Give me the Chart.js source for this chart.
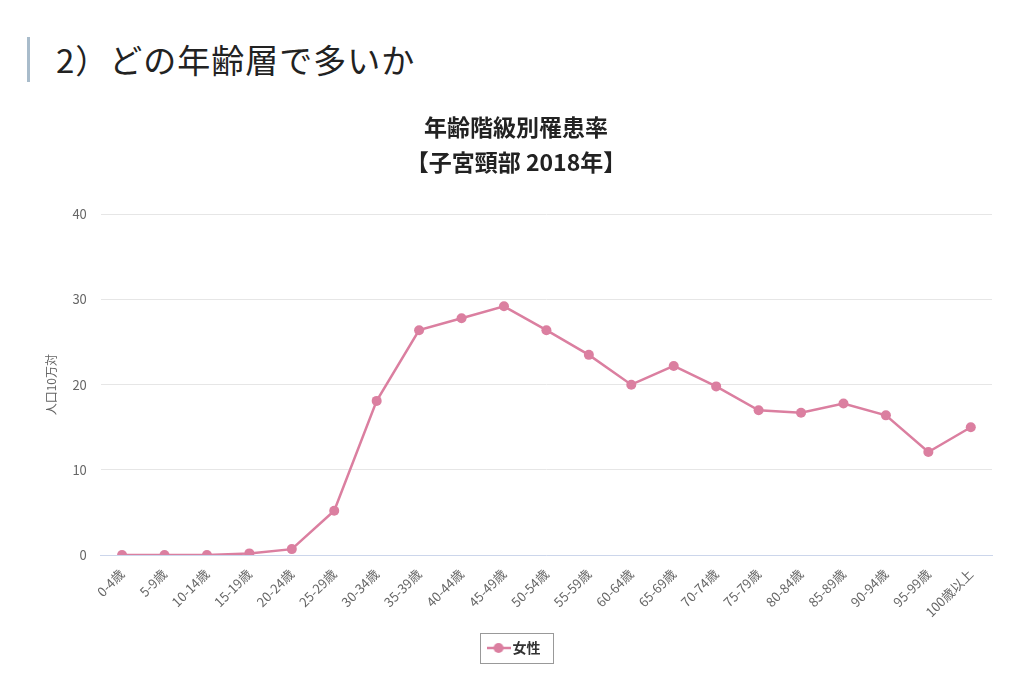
<!DOCTYPE html>
<html lang="ja">
<head>
<meta charset="utf-8">
<title>年齢階級別罹患率</title>
<script src="https://cdn.jsdelivr.net/npm/chart.js@4"></script>
<style>
  html, body { margin: 0; padding: 0; background: #fff; }
  body { width: 1026px; height: 680px; position: relative; overflow: hidden;
         font-family: "Noto Sans CJK JP", "Noto Sans", sans-serif; }
  .heading { position: absolute; left: 27px; top: 37px; height: 45px;
             border-left: 3px solid #a9bccb; padding-left: 26px;
             font-size: 33px; line-height: 45px; color: #222; letter-spacing: 1px; }
  .chart-wrap { position: absolute; left: 0; top: 95px; width: 1026px; height: 585px; }
</style>
</head>
<body>
<div class="heading">2）どの年齢層で多いか</div>
<div class="chart-wrap"><canvas id="myChart"></canvas></div>

<script>
// age groups
var ageLabels = ['0-4歳', '5-9歳', '10-14歳', '15-19歳', '20-24歳', '25-29歳', '30-34歳',
  '35-39歳', '40-44歳', '45-49歳', '50-54歳', '55-59歳', '60-64歳', '65-69歳',
  '70-74歳', '75-79歳', '80-84歳', '85-89歳', '90-94歳', '95-99歳', '100歳以上'];

// 罹患率 (人口10万対)
var femaleRate = [0.0, 0.0, 0.0, 0.2, 0.7, 5.2, 18.1, 26.4, 27.8, 29.2, 26.4, 23.5,
  20.0, 22.2, 19.8, 17.0, 16.7, 17.8, 16.4, 12.1, 15.0];

var yTicks = [0, 10, 20, 30, 40];

var pink = '#db7fa0';

// legend marker: line with dot
var marker = document.createElement('canvas');
marker.width = 24; marker.height = 12;
(function(){
  var c = marker.getContext('2d');
  c.strokeStyle = pink; c.lineWidth = 2.5;
  c.beginPath(); c.moveTo(0, 6); c.lineTo(24, 6); c.stroke();
  c.fillStyle = pink;
  c.beginPath(); c.arc(12, 6, 5, 0, Math.PI * 2); c.fill();
})();

// box around legend
var legendBox = {
  id: 'legendBox',
  afterDraw: function(chart){
    var lg = chart.legend;
    if (!lg || !lg.legendHitBoxes || !lg.legendHitBoxes.length) return;
    var b = lg.legendHitBoxes[0];
    var ctx = chart.ctx;
    ctx.save();
    ctx.strokeStyle = '#999';
    ctx.lineWidth = 1;
    ctx.strokeRect(Math.round(b.left - 12) + 0.5, Math.round(b.top - 8) + 0.5,
                   Math.round(b.width + 24), Math.round(b.height + 16));
    ctx.restore();
  }
};

var ctx = document.getElementById('myChart').getContext('2d');
var myChart = new Chart(ctx, {
  type: 'line',
  data: {
    labels: ageLabels,
    datasets: [{
      label: '女性',
      data: femaleRate,
      borderColor: pink,
      backgroundColor: pink,
      borderWidth: 2.5,
      pointRadius: 5,
      pointHoverRadius: 6,
      pointBorderWidth: 0,
      tension: 0
    }]
  },
  plugins: [legendBox],
  options: {
    responsive: true,
    maintainAspectRatio: false,
    animation: false,
    layout: { padding: { left: 40, right: 34, top: 14, bottom: 15 } },
    plugins: {
      title: {
        display: true,
        text: ['年齢階級別罹患率', '【子宮頸部 2018年】'],
        color: '#222',
        font: { family: '"Noto Sans CJK JP"', size: 23, weight: 'bold', lineHeight: 1.55 },
        padding: { top: 0, bottom: 34 }
      },
      legend: {
        position: 'bottom',
        labels: {
          usePointStyle: true,
          pointStyle: marker,
          color: '#333',
          font: { family: '"Noto Sans CJK JP"', size: 14, weight: 'bold' },
          padding: 18
        }
      },
      tooltip: { enabled: false }
    },
    scales: {
      y: {
        min: 0,
        max: 40,
        afterBuildTicks: function(axis){ axis.ticks = yTicks.map(function(v){ return { value: v }; }); },
        ticks: { color: '#666', font: { family: '"Noto Sans CJK JP"', size: 13 }, padding: 14 },
        grid: { color: '#e6e6e6', drawTicks: false },
        border: { display: false },
        title: {
          display: true,
          text: '人口10万対',
          color: '#666',
          font: { family: '"Noto Sans CJK JP"', size: 12 },
          padding: { bottom: 0 }
        }
      },
      x: {
        offset: true,
        grid: { display: false },
        border: { color: '#ccd6eb' },
        ticks: {
          color: '#666',
          font: { family: '"Noto Sans CJK JP"', size: 13 },
          minRotation: 45,
          maxRotation: 45,
          autoSkip: false
        }
      }
    }
  }
});
</script>
</body>
</html>
